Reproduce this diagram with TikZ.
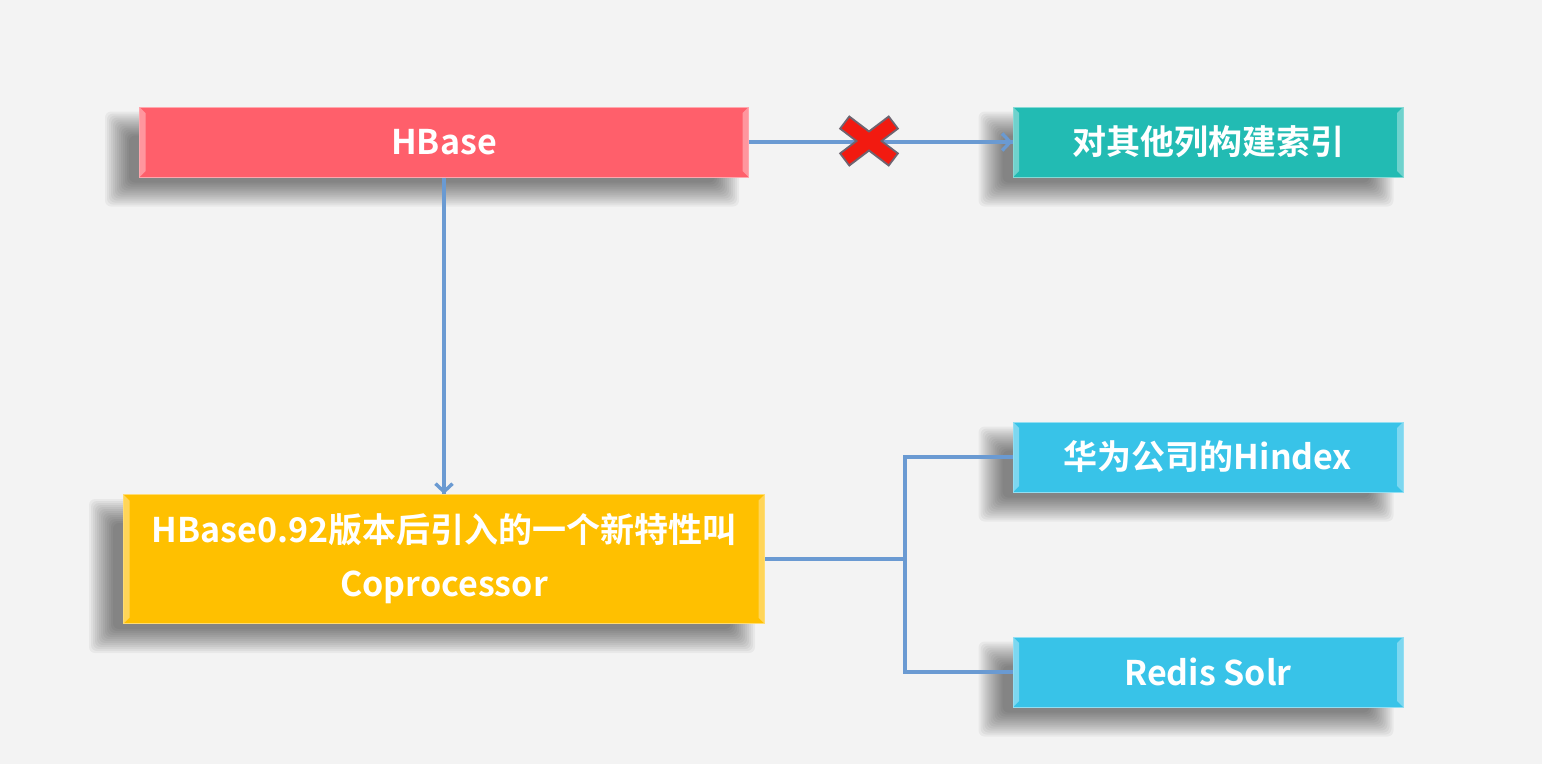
\documentclass[tikz,border=0pt]{standalone}
\usepackage{fontspec}
\setmainfont{Noto Sans CJK SC}[BoldFont={Noto Sans CJK SC Bold}]
\usetikzlibrary{arrows.meta,calc}
\definecolor{bg}{HTML}{F3F3F3}
\definecolor{cred}{HTML}{FF5F6B}
\definecolor{cteal}{HTML}{22BBB3}
\definecolor{cyel}{HTML}{FFC000}
\definecolor{cblue}{HTML}{38C3E8}
\definecolor{cline}{HTML}{6A9AD2}
\definecolor{xred}{HTML}{F21A10}
\definecolor{xgray}{HTML}{6E6470}
\pgfdeclarelayer{back}
\pgfdeclarelayer{shade}
\pgfsetlayers{back,shade,main}
\newcommand{\softshade}[1]{%
  \begin{pgfonlayer}{shade}
  \foreach \k in {-12,-10,...,12} {
    \fill[black, opacity=0.042, rounded corners=6pt]
      ($(#1.north west)+(-22+\k,17+\k)$) rectangle ($(#1.south east)+(-22-\k,17-\k)$);
  }
  \end{pgfonlayer}}
\tikzset{
  box/.style={rectangle, inner sep=0pt, text=white, align=center, line width=1pt,
    font=\fontsize{34}{54}\selectfont\bfseries,
    path picture={
      \fill[white,opacity=0.35] (path picture bounding box.north west) -- ++(6pt,-6pt)
        -- ([xshift=6pt,yshift=6pt]path picture bounding box.south west)
        -- (path picture bounding box.south west) -- cycle;
      \fill[white,opacity=0.35] (path picture bounding box.north east) -- ++(-6pt,-6pt)
        -- ([xshift=-6pt,yshift=6pt]path picture bounding box.south east)
        -- (path picture bounding box.south east) -- cycle;
    }},
  conn/.style={draw=cline, line width=3.4pt},
  tip/.style={draw=cline, line width=3.4pt, -{Straight Barb[length=8pt,width=17pt]}},
}
\begin{document}
\begin{tikzpicture}[x=1pt,y=-1pt]
\begin{pgfonlayer}{back}
\fill[bg] (0,0) rectangle (1542,764);
\end{pgfonlayer}
\useasboundingbox (0,0) rectangle (1542,764);

\node[box, fill=cred, draw=cred!55!white, minimum width=609pt, minimum height=70pt] (hb) at (444,142) {HBase};
\node[box, fill=cteal, draw=cteal!55!white, minimum width=390pt, minimum height=70pt] (tl) at (1208,142) {对其他列构建索引};
\node[box, fill=cyel, draw=cyel!55!white, minimum width=641pt, minimum height=129pt] (yl) at (444,559) {HBase0.92版本后引入的一个新特性叫\\Coprocessor};
\node[box, fill=cblue, draw=cblue!55!white, minimum width=390pt, minimum height=70pt] (hw) at (1208,457) {华为公司的Hindex};
\node[box, fill=cblue, draw=cblue!55!white, minimum width=390pt, minimum height=70pt] (rs) at (1208,672) {Redis Solr};

\softshade{hb}
\softshade{tl}
\softshade{yl}
\softshade{hw}
\softshade{rs}

\draw[conn] (hb.east) -- (tl.west);
\draw[tip] ($(tl.west)+(-20,0)$) -- (tl.west);
\draw[conn] (hb.south) -- (yl.north);
\draw[tip] ($(yl.north)+(0,-20)$) -- (yl.north);

\coordinate (j) at (905,559);
\draw[conn] (yl.east) -- (j);
\draw[conn] (hw.west) -- (j |- hw.west) -- (j |- rs.west) -- (rs.west);

% red cross
\coordinate (xc) at (869,141);
\draw[xgray, line width=17pt] ($(xc)+(-25,-19)$) -- ($(xc)+(25,19)$);
\draw[xgray, line width=17pt] ($(xc)+(-25,19)$) -- ($(xc)+(25,-19)$);
\draw[xred, line width=13pt] ($(xc)+(-23.5,-17.8)$) -- ($(xc)+(23.5,17.8)$);
\draw[xred, line width=13pt] ($(xc)+(-23.5,17.8)$) -- ($(xc)+(23.5,-17.8)$);
\end{tikzpicture}
\end{document}
